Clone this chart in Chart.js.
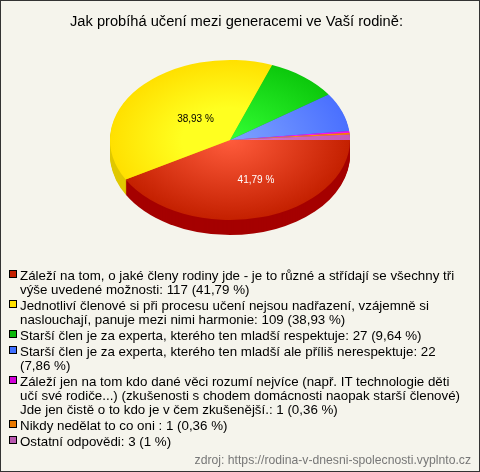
<!DOCTYPE html>
<html lang="cs">
<head>
<meta charset="utf-8">
<title>Jak probíhá učení mezi generacemi ve Vaší rodině</title>
<script src="https://cdn.jsdelivr.net/npm/chart.js@4/dist/chart.umd.min.js"></script>
<style>
  html, body { margin: 0; padding: 0; background: #f5f4ec; }
  #wrap { position: relative; width: 478px; height: 470px; border: 1px solid #333; background: #f5f4ec; overflow: hidden; font-family: "Liberation Sans", Arial, sans-serif; color: #000; }
  #chart { position: absolute; left: -1px; top: -1px; }
  #title { position: absolute; left: 0; width: 471px; top: 12px; text-align: center; font-size: 14.67px; line-height: 17px; white-space: nowrap; }
  #legend { position: absolute; left: 8px; top: 268px; width: 456px; font-size: 13.33px; line-height: 14px; }
  #legend div { position: relative; padding-left: 11px; margin-bottom: 2px; }
  #legend i { position: absolute; left: 0; top: 1px; width: 6px; height: 6px; border: 1px solid #000; }
  #source { position: absolute; right: 8px; top: 452px; font-size: 12.2px; line-height: 14px; color: #777; white-space: nowrap; }
</style>
</head>
<body>
<div id="wrap">
  <canvas id="chart" width="480" height="472"></canvas>
  <div id="title"></div>
  <div id="legend"></div>
  <div id="source"></div>
</div>
<script>
  const chartTitle = "Jak probíhá učení mezi generacemi ve Vaší rodině:";
  const sourceText = "zdroj: https://rodina-v-dnesni-spolecnosti.vyplnto.cz";
  const categories = [
    "Záleží na tom, o jaké členy rodiny jde - je to různé a střídají se všechny tři výše uvedené možnosti: 117 (41,79 %)",
    "Jednotliví členové si při procesu učení nejsou nadřazení, vzájemně si naslouchají, panuje mezi nimi harmonie: 109 (38,93 %)",
    "Starší člen je za experta, kterého ten mladší respektuje: 27 (9,64 %)",
    "Starší člen je za experta, kterého ten mladší ale příliš nerespektuje: 22 (7,86 %)",
    "Záleží jen na tom kdo dané věci rozumí nejvíce (např. IT technologie děti učí své rodiče...) (zkušenosti s chodem domácnosti naopak starší členové) Jde jen čistě o to kdo je v čem zkušenější.: 1 (0,36 %)",
    "Nikdy nedělat to co oni : 1 (0,36 %)",
    "Ostatní odpovědi: 3 (1 %)"
  ];
  const values = [117, 109, 27, 22, 1, 1, 3];
  const sliceLabels = ["41,79 %", "38,93 %", "", "", "", "", ""];
  const labelColors = ["#fff", "#000", "#000", "#000", "#000", "#000", "#000"];
  const innerColors = ["#ff5c3c", "#ffff20", "#33ff33", "#7fa3ff", "#ff30ff", "#ffa030", "#d878c8"];
  const outerColors = ["#c42000", "#ffe000", "#0cc80c", "#4a70ff", "#f010f0", "#ff8000", "#c858b8"];
  const legendColors = ["#c42000", "#ffe000", "#0cb80c", "#3f6fff", "#d000d8", "#e87800", "#b858b0"];
  const sideColors = ["#a50000", "#e0c800", "#0a9a0a", "#3050c0", "#b000b0", "#c06000", "#9a4090"];

  const SQUASH = 2 / 3;
  const DEPTH = 15;
  const CX = 230;
  const CY = 140;
  // where the percent labels sit: share of the radius, then a sideways nudge
  const labelRadius = [0.52, 0.4];
  const labelNudge = [10, 2];
  // yellow stays bright further out than the others
  const innerHold = [0, 0.4, 0, 0, 0, 0, 0];

  // legend and the plain texts around the chart
  document.getElementById("title").textContent = chartTitle;
  document.getElementById("source").textContent = sourceText;
  const legendEl = document.getElementById("legend");
  categories.forEach((text, i) => {
    const row = document.createElement("div");
    const box = document.createElement("i");
    box.style.background = legendColors[i];
    row.appendChild(box);
    row.appendChild(document.createTextNode(text));
    legendEl.appendChild(row);
  });

  function squash(ctx, dy) {
    ctx.translate(CX, CY + dy);
    ctx.scale(1, SQUASH);
    ctx.translate(-CX, -CY);
  }

  // draws the slices flattened to an ellipse, with a darker copy below as the rim
  const tiltPlugin = {
    id: "tilt",
    beforeDatasetDraw(chart, args) {
      const ctx = chart.ctx;
      const arcs = chart.getDatasetMeta(args.index).data;
      for (let dy = DEPTH; dy > 0; dy--) {
        ctx.save();
        squash(ctx, dy);
        arcs.forEach((arc, i) => {
          ctx.fillStyle = sideColors[i];
          ctx.beginPath();
          ctx.moveTo(arc.x, arc.y);
          ctx.arc(arc.x, arc.y, arc.outerRadius, arc.startAngle, arc.endAngle);
          ctx.closePath();
          ctx.fill();
        });
        ctx.restore();
      }
      ctx.save();
      squash(ctx, 0);
    },
    afterDatasetDraw(chart) {
      chart.ctx.restore();
    },
    afterDraw(chart) {
      const ctx = chart.ctx;
      const arcs = chart.getDatasetMeta(0).data;
      ctx.save();
      ctx.font = '10px "Liberation Sans", Arial, sans-serif';
      ctx.textAlign = "center";
      ctx.textBaseline = "middle";
      arcs.forEach((arc, i) => {
        if (!sliceLabels[i]) return;
        const mid = (arc.startAngle + arc.endAngle) / 2;
        const r = arc.outerRadius * labelRadius[i];
        ctx.fillStyle = labelColors[i];
        ctx.fillText(sliceLabels[i], arc.x + Math.cos(mid) * r + labelNudge[i], CY + Math.sin(mid) * r * SQUASH);
      });
      ctx.restore();
    }
  };

  function sliceFill(context) {
    const i = context.dataIndex;
    const g = context.chart.ctx.createRadialGradient(CX, CY, 0, CX, CY, 120);
    g.addColorStop(innerHold[i], innerColors[i]);
    g.addColorStop(1, outerColors[i]);
    return g;
  }

  new Chart(document.getElementById("chart").getContext("2d"), {
    type: "pie",
    data: {
      labels: categories,
      datasets: [{ data: values, backgroundColor: sliceFill, borderWidth: 0 }]
    },
    options: {
      responsive: false,
      animation: false,
      rotation: 90,
      layout: { padding: { left: 110, right: 130, top: 20, bottom: 212 } },
      plugins: { legend: { display: false }, tooltip: { enabled: false } }
    },
    plugins: [tiltPlugin]
  });
</script>
</body>
</html>
